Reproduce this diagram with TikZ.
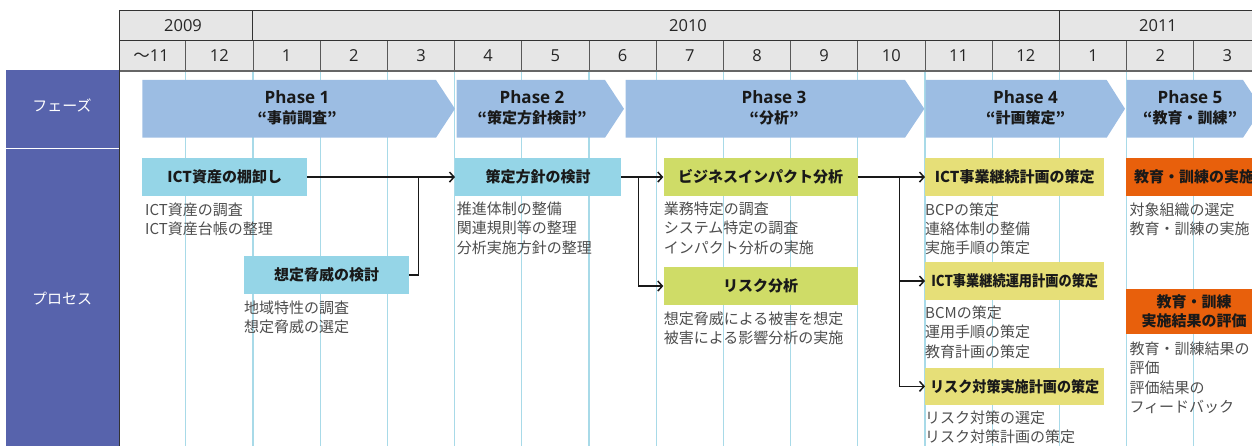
\documentclass[tikz,border=0pt]{standalone}
\usepackage{fontspec}
\usepackage{graphicx}
\setmainfont{Noto Sans CJK JP}
\newfontfamily\lat{Open Sans}
\usetikzlibrary{arrows.meta}
\definecolor{hdr}{HTML}{E6E6E6}
\definecolor{hline}{HTML}{333333}
\definecolor{purp}{HTML}{5763AC}
\definecolor{gridc}{HTML}{A8DAE8}
\definecolor{phasec}{HTML}{9CBDE3}
\definecolor{bluebox}{HTML}{95D5E7}
\definecolor{greenbox}{HTML}{CFDC67}
\definecolor{yelbox}{HTML}{E6DF78}
\definecolor{orbox}{HTML}{E8600C}
\definecolor{descc}{HTML}{4D4D4D}
\begin{document}
\begin{tikzpicture}[x=1pt,y=-1pt,
  box/.style={anchor=north west, inner sep=0pt, minimum height=37.7pt, align=center,
    font=\fontsize{15}{19.4}\selectfont\bfseries, text=black!90},
  desc/.style={anchor=north west, inner sep=0pt, align=left,
    font=\fontsize{15}{19.2}\selectfont, text=descc},
  mon/.style={font=\fontsize{16.5}{18}\selectfont, text=black!85},
  phtxt/.style={align=center, font=\fontsize{15}{20.5}\selectfont\bfseries, text=black!90},
  side/.style={font=\fontsize{15}{18}\selectfont, text=white},
  conn/.style={line width=1.5pt, black!90},
  arr/.style={conn, -{Straight Barb[length=4.5pt,width=10pt]}}]
\useasboundingbox (0,0) rectangle (1252,446);
\clip (0,0) rectangle (1252,446);
% header
\fill[hdr] (119,10.3) rectangle (1252,70.7);
\draw[hline, line width=1pt] (1252,10.3) -- (119,10.3) -- (119,446);
\draw[hline, line width=1pt] (119,40.7) -- (1252,40.7);
\draw[hline, line width=1pt] (252.4,10.3) -- (252.4,40.7);
\draw[hline, line width=1pt] (1059.4,10.3) -- (1059.4,40.7);
\foreach \i in {1,...,16}
  \draw[black!65, line width=1pt] (118.6+67.2*\i,40.7) -- (118.6+67.2*\i,70.7);
% grid lines
\foreach \i in {1,...,16}
  \draw[gridc, line width=1.2pt] (118.6+67.2*\i,70.7) -- (118.6+67.2*\i,446);
\draw[black!60, line width=2pt] (119,70.7) -- (1252,70.7);
% year and month labels
\node[mon] (y2009) at (183,25.5) {\lat 2009};
\node[mon] (y2010) at (688,25.5) {\lat 2010};
\node[mon] (y2011) at (1158,25.5) {\lat 2011};
\node[mon] (m0) at (151,55.7) {～{\lat 11}};
\foreach \m [count=\i] in {12,1,2,3,4,5,6,7,8,9,10,11,12,1,2,3}
  \node[mon] (m\i) at (118.6+67.2*\i+33.6,55.7) {\lat \m};
% side column
\fill[purp] (6,70) rectangle (119,147.7);
\fill[purp] (6,149.2) rectangle (119,446);
\draw[hline, line width=1pt] (119,70) -- (119,446);
\node[side] (lphase) at (62,105.3) {フェーズ};
\node[side] (lproc) at (62,298.3) {プロセス};
% phase arrows
\fill[phasec] (142.3,80) -- (436,80) -- (455,108.8) -- (436,137.7) -- (142.3,137.7) -- cycle;
\fill[phasec] (456.7,80) -- (605,80) -- (624,108.8) -- (605,137.7) -- (456.7,137.7) -- cycle;
\fill[phasec] (625.7,80) -- (905,80) -- (924.3,108.8) -- (905,137.7) -- (625.7,137.7) -- cycle;
\fill[phasec] (925.7,80) -- (1106.7,80) -- (1125,108.8) -- (1106.7,137.7) -- (925.7,137.7) -- cycle;
\fill[phasec] (1126.7,80) -- (1243,80) -- (1262,108.8) -- (1243,137.7) -- (1126.7,137.7) -- cycle;
\node[phtxt] (p1) at (297,108) {{\lat\fontsize{17}{20.5}\selectfont Phase 1}\\“事前調査”};
\node[phtxt] (p2) at (532,108) {{\lat\fontsize{17}{20.5}\selectfont Phase 2}\\“策定方針検討”};
\node[phtxt] (p3) at (774,108) {{\lat\fontsize{17}{20.5}\selectfont Phase 3}\\“分析”};
\node[phtxt] (p4) at (1025.5,108) {{\lat\fontsize{17}{20.5}\selectfont Phase 4}\\“計画策定”};
\node[phtxt] (p5) at (1190,108) {{\lat\fontsize{17}{20.5}\selectfont Phase 5}\\“教育・訓練”};
% process boxes
\node[box, fill=bluebox, minimum width=165pt] (inv) at (142,158) {ICT資産の棚卸し};
\node[box, fill=bluebox, minimum width=165pt] (threat) at (244,256) {想定脅威の検討};
\node[box, fill=bluebox, minimum width=166pt] (policy) at (455,158) {策定方針の検討};
\node[box, fill=greenbox, minimum width=194pt] (bia) at (663.3,158) {ビジネスインパクト分析};
\node[box, fill=greenbox, minimum width=194pt] (risk) at (663.3,267) {リスク分析};
\node[box, fill=yelbox, minimum width=179pt] (plan1) at (925,158) {ICT事業継続計画の策定};
\node[box, fill=yelbox, minimum width=179pt] (plan2) at (925,262) {\scalebox{0.88}[1]{ICT事業継続運用計画の策定}};
\node[box, fill=yelbox, minimum width=179pt] (plan3) at (925,367.3) {\scalebox{0.94}[1]{リスク対策実施計画の策定}};
\node[box, fill=orbox, minimum width=136pt] (edu) at (1126,158) {教育・訓練の実施};
\node[box, fill=orbox, minimum width=136pt, minimum height=45.7pt] (eval) at (1126,288.3) {教育・訓練\\実施結果の評価};
% descriptions
\node[desc] (d1) at (145,202.5) {ICT資産の調査\\ICT資産台帳の整理};
\node[desc] (d2) at (244,300.2) {地域特性の調査\\想定脅威の選定};
\node[desc] (d3) at (456.7,201.8) {推進体制の整備\\関連規則等の整理\\分析実施方針の整理};
\node[desc] (d4) at (663.7,201.8) {業務特定の調査\\システム特定の調査\\インパクト分析の実施};
\node[desc] (d5) at (663.7,311.8) {想定脅威による被害を想定\\被害による影響分析の実施};
\node[desc] (d6) at (925,202.5) {BCPの策定\\連絡体制の整備\\実施手順の策定};
\node[desc] (d7) at (925,305.8) {BCMの策定\\運用手順の策定\\教育計画の策定};
\node[desc] (d8) at (925,410.2) {リスク対策の選定\\リスク対策計画の策定};
\node[desc] (d9) at (1129.3,202.5) {対象組織の選定\\教育・訓練の実施};
\node[desc] (d10) at (1129.3,341.8) {教育・訓練結果の\\評価\\評価結果の\\フィードバック};
% connectors
\coordinate (j1) at (418.3,176.85);
\coordinate (j2) at (638.3,176.85);
\coordinate (j3) at (899.3,176.85);
\draw[arr] (inv.east) -- (policy.west);
\draw[conn] (threat.east) -| (j1);
\draw[arr] (policy.east) -- (bia.west);
\draw[arr] (j2) |- (risk.west);
\draw[arr] (bia.east) -- (plan1.west);
\draw[arr] (j3) |- (plan2.west);
\draw[arr] (j3) |- (plan3.west);
\end{tikzpicture}
\end{document}
